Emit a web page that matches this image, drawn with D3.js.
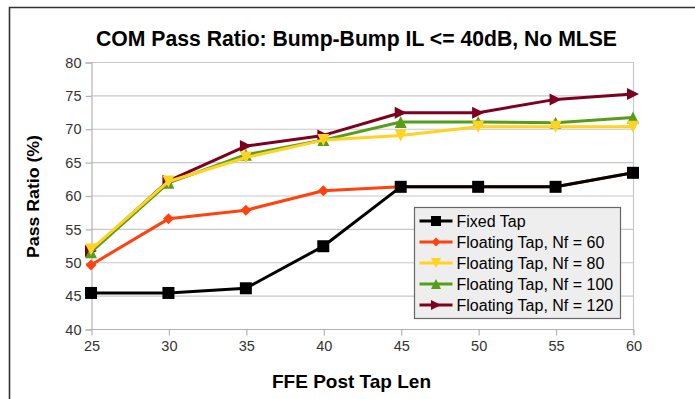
<!DOCTYPE html>
<html><head><meta charset="utf-8">
<script src="https://cdn.jsdelivr.net/npm/d3@7/dist/d3.min.js"></script>
<style>
html,body{margin:0;padding:0;background:#fff;overflow:hidden;}
svg{display:block;}
</style></head>
<body>
<script>
const xValues = [25, 30, 35, 40, 45, 50, 55, 60];
const fixedTap = [45.4, 45.4, 46.1, 52.4, 61.3, 61.3, 61.3, 63.4];
const nf60 = [49.6, 56.5, 57.8, 60.7, 61.3, 61.3, 61.3, 63.4];
const nf80 = [51.9, 62.1, 65.7, 68.3, 69.0, 70.3, 70.3, 70.3];
const nf100 = [51.5, 61.9, 66.1, 68.3, 71.0, 71.0, 70.9, 71.7];
const nf120 = [51.7, 62.2, 67.4, 69.0, 72.4, 72.4, 74.4, 75.2];
const seriesNames = ["Fixed Tap", "Floating Tap, Nf = 60", "Floating Tap, Nf = 80", "Floating Tap, Nf = 100", "Floating Tap, Nf = 120"];
const seriesColors = ["#000000", "#ff420e", "#ffd320", "#579d1c", "#7e0021"];
const seriesMarkers = ["square", "diamond", "down", "up", "right"];
const yTicks = [40, 45, 50, 55, 60, 65, 70, 75, 80];
const xTicks = [25, 30, 35, 40, 45, 50, 55, 60];
const titleText = "COM Pass Ratio: Bump-Bump IL <= 40dB, No MLSE";
const xTitle = "FFE Post Tap Len";
const yTitle = "Pass Ratio (%)";

const seriesData = [fixedTap, nf60, nf80, nf100, nf120];
const W = 695, H = 399;
const svg = d3.select("body").append("svg").attr("width", W).attr("height", H);

// frame
svg.append("path").attr("d", "M9.5,420 L9.5,7.5 L720,7.5")
  .attr("fill", "none").attr("stroke", "#333").attr("stroke-width", 1.6);

const L = 91, R = 633, T = 62, B = 329;
const x = d3.scaleLinear().domain([25, 60]).range([L, R]);
const y = d3.scaleLinear().domain([40, 80]).range([B, T]);

const sans = "'Liberation Sans',Arial,sans-serif";

// grid
svg.append("g").selectAll("line").data(yTicks).join("line")
  .attr("x1", L).attr("x2", R).attr("y1", d => y(d) + 0.5).attr("y2", d => y(d) + 0.5)
  .attr("stroke", "#c8c8c8").attr("stroke-width", 1.2);
// right edge
svg.append("line").attr("x1", R + 0.5).attr("x2", R + 0.5).attr("y1", T).attr("y2", B + 6)
  .attr("stroke", "#c8c8c8").attr("stroke-width", 1.2);

// axes
const yAxis = d3.axisLeft(y).tickValues(yTicks).tickSize(6).tickPadding(4);
const gy = svg.append("g").attr("transform", `translate(${L + 0.5},0.5)`).call(yAxis);
const xAxis = d3.axisBottom(x).tickValues(xTicks).tickSize(6).tickPadding(5);
const gx = svg.append("g").attr("transform", `translate(0.5,${B + 0.5})`).call(xAxis);
[gx, gy].forEach(g => {
  g.select(".domain").attr("stroke", "#b3b3b3").attr("stroke-width", 1.2);
  g.selectAll(".tick line").attr("stroke", "#b3b3b3").attr("stroke-width", 1.2);
  g.selectAll(".tick text").attr("fill", "#333").style("font-family", sans).style("font-size", "14.5px");
});
gx.select(".domain").attr("d", `M${L},0H${R}`);

// titles
svg.append("text").attr("x", 356.5).attr("y", 46).attr("text-anchor", "middle")
  .attr("textLength", 521).attr("lengthAdjust", "spacingAndGlyphs")
  .style("font-family", sans).style("font-weight", "bold").style("font-size", "22px")
  .attr("fill", "#000").text(titleText);
svg.append("text").attr("x", 351.5).attr("y", 388).attr("text-anchor", "middle")
  .attr("textLength", 159).attr("lengthAdjust", "spacingAndGlyphs")
  .style("font-family", sans).style("font-weight", "bold").style("font-size", "19px")
  .attr("fill", "#000").text(xTitle);
svg.append("text").attr("transform", "translate(39,196.5) rotate(-90)").attr("text-anchor", "middle")
  .attr("textLength", 123).attr("lengthAdjust", "spacingAndGlyphs")
  .style("font-family", sans).style("font-weight", "bold").style("font-size", "17px")
  .attr("fill", "#000").text(yTitle);

function markerPath(type, s) {
  const h = s / 2;
  switch (type) {
    case "square": return `M${-h},${-h}H${h}V${h}H${-h}Z`;
    case "diamond": return `M0,${-h}L${h},0L0,${h}L${-h},0Z`;
    case "down": return `M${-h},${-h}L${h},${-h}L0,${h}Z`;
    case "up": return `M${-h},${h}L${h},${h}L0,${-h}Z`;
    case "right": return `M${-h},${-h}L${h},0L${-h},${h}Z`;
  }
}
const markerSize = [12, 11, 12, 12, 12];

const line = d3.line().x((d, i) => x(xValues[i])).y(d => y(d));
const order = [4, 3, 2, 1, 0];
order.forEach(si => {
  const g = svg.append("g");
  g.append("path").attr("d", line(seriesData[si])).attr("fill", "none")
    .attr("stroke", seriesColors[si]).attr("stroke-width", 3).attr("stroke-linejoin", "round");
  g.selectAll("path.m").data(seriesData[si]).join("path").attr("class", "m")
    .attr("transform", (d, i) => `translate(${x(xValues[i])},${y(d)})`)
    .attr("d", markerPath(seriesMarkers[si], markerSize[si])).attr("fill", seriesColors[si]);
});

// legend
const lg = svg.append("g").attr("transform", "translate(414.5,207.5)");
lg.append("rect").attr("width", 206).attr("height", 111).attr("fill", "#eeeeee")
  .attr("stroke", "#666").attr("stroke-width", 1.2);
seriesNames.forEach((n, i) => {
  const yy = 13.5 + i * 21;
  lg.append("line").attr("x1", 5).attr("x2", 38).attr("y1", yy).attr("y2", yy)
    .attr("stroke", seriesColors[i]).attr("stroke-width", 3);
  lg.append("path").attr("transform", `translate(21.5,${yy})`)
    .attr("d", markerPath(seriesMarkers[i], markerSize[i] - 2)).attr("fill", seriesColors[i]);
  lg.append("text").attr("x", 42).attr("y", yy + 5.5).style("font-family", sans)
    .style("font-size", "16px").attr("fill", "#000").text(n);
});
</script>
</body></html>
